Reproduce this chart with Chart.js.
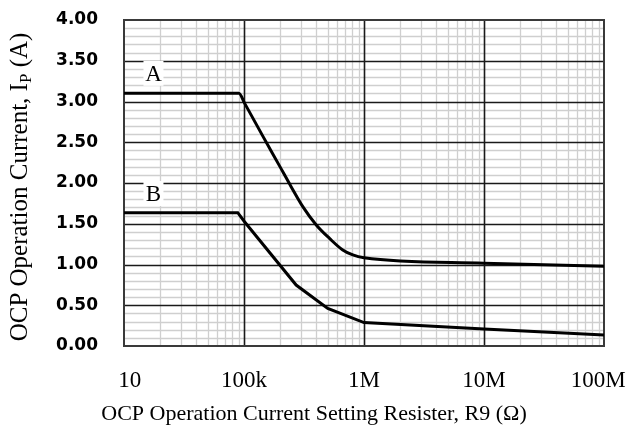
<!DOCTYPE html>
<html><head><meta charset="utf-8">
<script src="https://cdn.jsdelivr.net/npm/chart.js@4"></script>
<style>html,body{margin:0;padding:0;background:#fff}</style>
</head><body>
<canvas id="c" width="628" height="442"></canvas>
<script>
// ---- data (resistance in ohms, current in amperes) ----
const curveAx = [1e4, 90600, 101000, 143500, 197700, 247000, 309000, 400000, 516000, 665000, 807000, 1e6, 1e7, 1e8];
const curveAy = [3.10, 3.10, 2.98, 2.575, 2.21, 1.955, 1.71, 1.485, 1.32, 1.178, 1.117, 1.083, 1.015, 0.978];
const curveBx = [1e4, 88700, 101000, 272000, 499000, 1e6, 1e7, 1e8];
const curveBy = [1.636, 1.636, 1.525, 0.748, 0.462, 0.288, 0.208, 0.135];
const xTickValues = [1e4, 1e5, 1e6, 1e7, 1e8];
const xTickLabels = ['10', '100k', '1M', '10M', '100M'];
const yTickLabels = ['0.00','0.50','1.00','1.50','2.00','2.50','3.00','3.50','4.00'];
const curveNames = ['A', 'B'];
const curveNameX = [17600, 17600];
const curveNameY = [3.34, 1.865];
const xTitle = 'OCP Operation Current Setting Resister, R9 (\u03A9)';
const yTitleMain = 'OCP Operation Current, I';
const yTitleSub = 'P';
const yTitleEnd = ' (A)';

const SERIF = '"Liberation Serif", "Times New Roman", serif';
const NB = '\u00A0\u00A0';

function toPts(xs, ys) { return xs.map((x, i) => ({ x: x, y: ys[i] })); }
function isDecade(v) { const l = Math.log10(v); return Math.abs(l - Math.round(l)) < 1e-9; }
function isHalf(v) { return Math.abs(v * 2 - Math.round(v * 2)) < 1e-6; }

const gridPlugin = {
  id: 'gridPlugin',
  beforeDatasetsDraw(chart) {
    const ctx = chart.ctx, xs = chart.scales.x, ys = chart.scales.y, ca = chart.chartArea;
    ctx.save();
    const vline = (v) => { const p = Math.round(xs.getPixelForValue(v)) + 0.5; ctx.beginPath(); ctx.moveTo(p, ca.top); ctx.lineTo(p, ca.bottom); ctx.stroke(); };
    const hline = (v) => { const p = Math.round(ys.getPixelForValue(v)) + 0.5; ctx.beginPath(); ctx.moveTo(ca.left, p); ctx.lineTo(ca.right, p); ctx.stroke(); };
    ctx.strokeStyle = '#cfcfcf'; ctx.lineWidth = 1.3;
    xs.ticks.forEach(t => { if (!isDecade(t.value)) vline(t.value); });
    ys.ticks.forEach(t => { if (!isHalf(t.value)) hline(t.value); });
    ctx.strokeStyle = '#1a1a1a'; ctx.lineWidth = 1.6;
    xs.ticks.forEach(t => { if (isDecade(t.value) && t.value > xs.min && t.value < xs.max) vline(t.value); });
    ys.ticks.forEach(t => { if (isHalf(t.value) && t.value > ys.min && t.value < ys.max) hline(t.value); });
    // frame
    ctx.strokeStyle = '#3a3a3a'; ctx.lineWidth = 2;
    ctx.strokeRect(ca.left, ca.top, ca.right - ca.left, ca.bottom - ca.top);
    // curve name labels with white boxes
    ctx.font = '23px ' + SERIF;
    ctx.textAlign = 'center'; ctx.textBaseline = 'middle';
    curveNames.forEach((n, i) => {
      const px = xs.getPixelForValue(curveNameX[i]), py = ys.getPixelForValue(curveNameY[i]);
      ctx.fillStyle = '#fff';
      ctx.fillRect(px - 10, py - 13, 20, 25);
      ctx.fillStyle = '#000';
      ctx.fillText(n, px, py + 1);
    });
    ctx.restore();
  },
  afterDraw(chart) {
    const ctx = chart.ctx, ca = chart.chartArea;
    ctx.save();
    ctx.fillStyle = '#000';
    // x title
    ctx.font = '22px ' + SERIF;
    ctx.textAlign = 'center'; ctx.textBaseline = 'alphabetic';
    ctx.fillText(xTitle, 314, 420);
    // y title (rotated with subscript)
    const big = '25px ' + SERIF, small = '17px ' + SERIF;
    ctx.font = big; const w1 = ctx.measureText(yTitleMain).width; const w3 = ctx.measureText(yTitleEnd).width;
    ctx.font = small; const w2 = ctx.measureText(yTitleSub).width;
    const total = w1 + w2 + w3;
    ctx.translate(27, (ca.top + ca.bottom) / 2 + 4);
    ctx.rotate(-Math.PI / 2);
    ctx.textAlign = 'left';
    let sx = -total / 2;
    ctx.font = big; ctx.fillText(yTitleMain, sx, 0); sx += w1;
    ctx.font = small; ctx.fillText(yTitleSub, sx, 4); sx += w2;
    ctx.font = big; ctx.fillText(yTitleEnd, sx, 0);
    ctx.restore();
  }
};

new Chart(document.getElementById('c'), {
  type: 'line',
  data: {
    datasets: [
      { label: 'A', data: toPts(curveAx, curveAy), borderColor: '#000', borderWidth: 3, pointRadius: 0, fill: false, cubicInterpolationMode: 'monotone' },
      { label: 'B', data: toPts(curveBx, curveBy), borderColor: '#000', borderWidth: 3, pointRadius: 0, fill: false, tension: 0 }
    ]
  },
  options: {
    responsive: false,
    animation: false,
    devicePixelRatio: 1,
    layout: { autoPadding: false, padding: { left: 0, top: 20, right: 24, bottom: 0 } },
    plugins: { legend: { display: false }, tooltip: { enabled: false }, title: { display: false } },
    scales: {
      x: {
        type: 'logarithmic',
        min: 1e4, max: 1e8,
        grid: { display: false, drawTicks: false },
        border: { display: false },
        afterBuildTicks(scale) {
          const t = [];
          for (let e = 4; e < 8; e++) for (let d = 1; d <= 9; d++) t.push({ value: d * Math.pow(10, e) });
          t.push({ value: 1e8 });
          scale.ticks = t;
        },
        afterFit(scale) {
          scale.height = 96;
          scale.paddingLeft = 0; scale.paddingRight = 0; scale.paddingTop = 0; scale.paddingBottom = 0;
        },
        ticks: {
          autoSkip: false, maxRotation: 0, minRotation: 0, padding: 21,
          color: '#000',
          font: { family: SERIF, size: 23 },
          callback(v) {
            const i = xTickValues.findIndex(t => Math.abs(t - v) / t < 1e-9);
            if (i < 0) return '';
            if (i === 0) return NB + xTickLabels[i];
            if (i === xTickLabels.length - 1) return xTickLabels[i] + NB;
            return xTickLabels[i];
          }
        }
      },
      y: {
        type: 'linear',
        min: 0, max: 4,
        grid: { display: false, drawTicks: false },
        border: { display: false },
        afterBuildTicks(scale) {
          const t = [];
          for (let i = 0; i <= 40; i++) t.push({ value: Math.round(i) / 10 });
          scale.ticks = t;
        },
        afterFit(scale) {
          scale.width = 124;
          scale.paddingLeft = 0; scale.paddingRight = 0; scale.paddingTop = 0; scale.paddingBottom = 0;
        },
        ticks: {
          autoSkip: false, padding: 26,
          color: '#000',
          font: { family: '"DejaVu Sans", sans-serif', size: 17, weight: 'bold' },
          callback(v) { return isHalf(v) ? yTickLabels[Math.round(v * 2)] : ''; }
        }
      }
    }
  },
  plugins: [gridPlugin]
});
</script>
</body></html>
